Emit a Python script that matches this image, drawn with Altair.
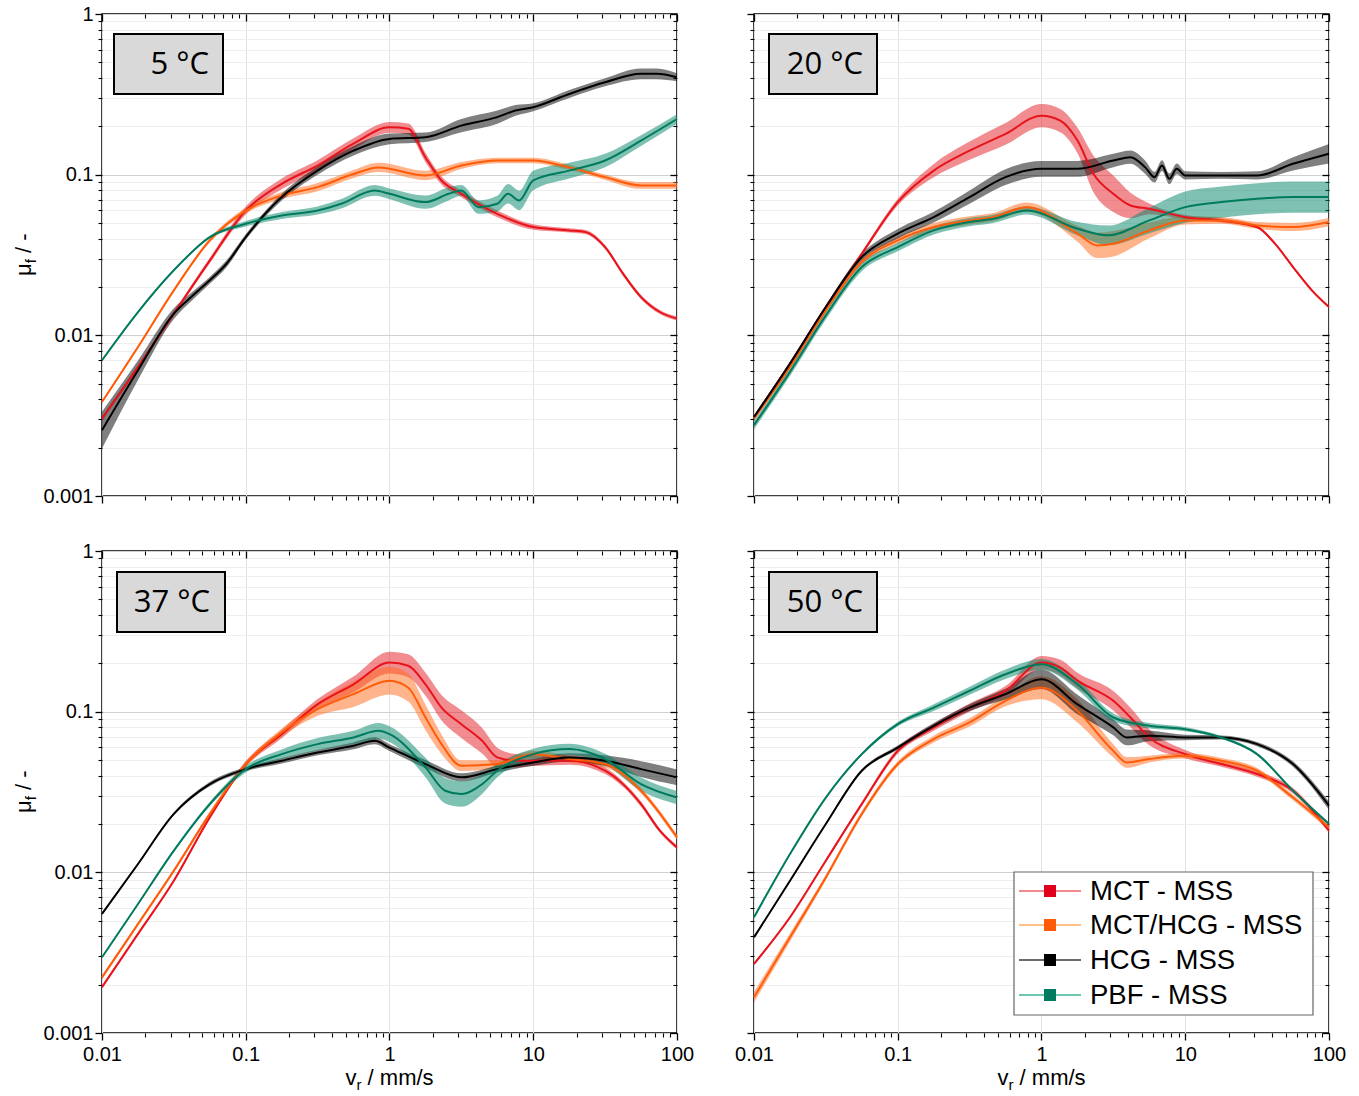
import altair as alt
import pandas as pd

# ---------------- data ----------------
SERIES = ["MCT - MSS", "MCT/HCG - MSS", "HCG - MSS", "PBF - MSS"]
TEMPS = ["5 °C", "20 °C", "37 °C", "50 °C"]

X_MAJOR = [0.01, 0.1, 1, 10, 100]
X_MINOR = [0.02, 0.03, 0.04, 0.05, 0.06, 0.07, 0.08, 0.09,
           0.2, 0.3, 0.4, 0.5, 0.6, 0.7, 0.8, 0.9,
           2, 3, 4, 5, 6, 7, 8, 9,
           20, 30, 40, 50, 60, 70, 80, 90]
Y_MAJOR = [0.001, 0.01, 0.1, 1]
Y_MINOR = [0.002, 0.003, 0.004, 0.005, 0.006, 0.007, 0.008, 0.009,
           0.02, 0.03, 0.04, 0.05, 0.06, 0.07, 0.08, 0.09,
           0.2, 0.3, 0.4, 0.5, 0.6, 0.7, 0.8, 0.9]

# 5 °C
T5_MCT_X = [0.01, 0.0178, 0.0316, 0.0562, 0.1, 0.178, 0.316, 0.562, 1, 1.35, 1.78, 2.3, 3.16, 5.62, 10, 17.8, 23.2, 31.6, 42.1, 56.2, 76, 100]
T5_MCT_Y = [0.00303, 0.00635, 0.01365, 0.0292, 0.0598, 0.0877, 0.114, 0.156, 0.197, 0.193, 0.128, 0.092, 0.076, 0.057, 0.0472, 0.045, 0.0439, 0.0354, 0.0242, 0.0173, 0.01397, 0.0127]
T5_MCT_F = [1.03, 1.03, 1.03, 1.04, 1.06, 1.08, 1.08, 1.08, 1.08, 1.08, 1.07, 1.06, 1.05, 1.05, 1.04, 1.03, 1.03, 1.03, 1.03, 1.03, 1.03, 1.03]

T5_MIX_X = [0.01, 0.0178, 0.0316, 0.0562, 0.1, 0.178, 0.316, 0.562, 0.837, 1.78, 3.16, 5.62, 10, 17.8, 31.6, 56.2, 100]
T5_MIX_Y = [0.00385, 0.00846, 0.01905, 0.039, 0.0598, 0.0742, 0.0836, 0.101, 0.111, 0.0989, 0.114, 0.1225, 0.1225, 0.111, 0.0965, 0.0857, 0.0857]
T5_MIX_F = [1.02, 1.02, 1.02, 1.03, 1.04, 1.05, 1.06, 1.06, 1.07, 1.07, 1.05, 1.04, 1.04, 1.04, 1.04, 1.05, 1.05]

T5_HCG_X = [0.01, 0.0178, 0.0316, 0.043, 0.0562, 0.0735, 0.1, 0.178, 0.316, 0.562, 1, 1.78, 3.16, 5.62, 7.52, 10, 17.8, 31.6, 56.2, 72, 100]
T5_HCG_Y = [0.00257, 0.00606, 0.01365, 0.01774, 0.022, 0.0279, 0.0409, 0.0725, 0.106, 0.141, 0.167, 0.171, 0.202, 0.228, 0.251, 0.263, 0.318, 0.376, 0.424, 0.424, 0.404]
T5_HCG_F = [1.3, 1.15, 1.08, 1.06, 1.05, 1.05, 1.04, 1.05, 1.06, 1.07, 1.08, 1.07, 1.1, 1.1, 1.08, 1.06, 1.06, 1.06, 1.08, 1.08, 1.06]

T5_PBF_X = [0.01, 0.0178, 0.0316, 0.0562, 0.1, 0.178, 0.316, 0.462, 0.789, 1, 1.78, 2.58, 3.16, 4.16, 5.62, 6.68, 7.98, 10, 17.8, 31.6, 56.2, 100]
T5_PBF_Y = [0.007, 0.01397, 0.0254, 0.0409, 0.0495, 0.0557, 0.0598, 0.0659, 0.0798, 0.076, 0.0675, 0.076, 0.0798, 0.0628, 0.0659, 0.076, 0.0691, 0.092, 0.106, 0.1225, 0.163, 0.222]
T5_PBF_F = [1.01, 1.01, 1.01, 1.02, 1.04, 1.05, 1.06, 1.07, 1.08, 1.08, 1.1, 1.1, 1.08, 1.1, 1.12, 1.15, 1.15, 1.15, 1.12, 1.1, 1.08, 1.07]

# 20 °C
T20_MCT_X = [0.01, 0.0178, 0.0316, 0.0562, 0.1, 0.178, 0.316, 0.562, 1, 1.35, 1.78, 2.3, 3.16, 4.16, 5.62, 10, 17.8, 31.6, 42.1, 56.2, 76, 100]
T20_MCT_Y = [0.0031, 0.00667, 0.015, 0.0322, 0.0675, 0.106, 0.141, 0.1795, 0.233, 0.217, 0.163, 0.101, 0.076, 0.0643, 0.0613, 0.0544, 0.0519, 0.0472, 0.0372, 0.0266, 0.01905, 0.015]
T20_MCT_F = [1.02, 1.02, 1.02, 1.03, 1.05, 1.1, 1.14, 1.17, 1.18, 1.18, 1.2, 1.3, 1.3, 1.2, 1.08, 1.03, 1.03, 1.02, 1.02, 1.02, 1.02, 1.02]

T20_MIX_X = [0.01, 0.0178, 0.0316, 0.0562, 0.1, 0.178, 0.316, 0.462, 0.789, 1.78, 2.44, 3.16, 5.62, 10, 17.8, 31.6, 56.2, 100]
T20_MIX_Y = [0.00303, 0.00635, 0.01429, 0.0286, 0.039, 0.0472, 0.0519, 0.0544, 0.0628, 0.0429, 0.0363, 0.0372, 0.045, 0.0519, 0.0519, 0.0483, 0.0472, 0.0507]
T20_MIX_F = [1.03, 1.03, 1.03, 1.04, 1.05, 1.06, 1.06, 1.06, 1.07, 1.12, 1.2, 1.2, 1.12, 1.06, 1.05, 1.05, 1.06, 1.06]

T20_HCG_X = [0.01, 0.0178, 0.0316, 0.0562, 0.1, 0.178, 0.316, 0.562, 1, 1.78, 3.16, 4.16, 5.27, 6.11, 6.89, 7.75, 8.72, 10, 17.8, 31.6, 56.2, 100]
T20_HCG_Y = [0.0031, 0.00667, 0.015, 0.0307, 0.0429, 0.0544, 0.0725, 0.0965, 0.1087, 0.1087, 0.1225, 0.1285, 0.111, 0.0965, 0.114, 0.0942, 0.1087, 0.0989, 0.0989, 0.0989, 0.1168, 0.135]
T20_HCG_F = [1.02, 1.02, 1.03, 1.05, 1.07, 1.08, 1.1, 1.12, 1.12, 1.12, 1.1, 1.1, 1.1, 1.08, 1.08, 1.08, 1.08, 1.06, 1.05, 1.06, 1.1, 1.15]

T20_PBF_X = [0.01, 0.0178, 0.0316, 0.0562, 0.1, 0.178, 0.316, 0.462, 0.789, 1.78, 2.91, 5.62, 10, 17.8, 31.6, 56.2, 100]
T20_PBF_Y = [0.00276, 0.00592, 0.0133, 0.0266, 0.0354, 0.045, 0.0507, 0.0531, 0.0598, 0.0461, 0.0419, 0.0519, 0.0628, 0.0675, 0.0708, 0.0725, 0.0725]
T20_PBF_F = [1.06, 1.06, 1.06, 1.06, 1.06, 1.06, 1.06, 1.06, 1.06, 1.1, 1.15, 1.2, 1.25, 1.25, 1.25, 1.25, 1.25]

# 37 °C
T37_MCT_X = [0.01, 0.0178, 0.0316, 0.0562, 0.1, 0.178, 0.316, 0.562, 1, 1.35, 1.78, 2.3, 3.16, 4.41, 5.62, 7.52, 10, 17.8, 31.6, 42.1, 56.2, 76, 100]
T37_MCT_Y = [0.00193, 0.00414, 0.00887, 0.022, 0.0472, 0.0725, 0.111, 0.148, 0.202, 0.193, 0.148, 0.106, 0.0836, 0.0659, 0.0519, 0.0495, 0.0495, 0.0495, 0.0429, 0.0354, 0.0266, 0.01816, 0.01429]
T37_MCT_F = [1.02, 1.02, 1.02, 1.03, 1.04, 1.06, 1.08, 1.12, 1.17, 1.18, 1.18, 1.2, 1.22, 1.2, 1.15, 1.1, 1.08, 1.06, 1.05, 1.04, 1.04, 1.03, 1.03]

T37_MIX_X = [0.01, 0.0178, 0.0316, 0.0562, 0.1, 0.178, 0.316, 0.562, 1, 1.35, 1.78, 2.3, 3.16, 5.62, 10, 17.8, 31.6, 56.2, 100]
T37_MIX_Y = [0.00222, 0.00477, 0.01023, 0.0231, 0.0472, 0.0742, 0.1037, 0.1285, 0.156, 0.141, 0.092, 0.0628, 0.0461, 0.0472, 0.0544, 0.0507, 0.0472, 0.0322, 0.01652]
T37_MIX_F = [1.03, 1.03, 1.03, 1.03, 1.04, 1.06, 1.1, 1.2, 1.22, 1.22, 1.2, 1.15, 1.08, 1.06, 1.05, 1.05, 1.05, 1.04, 1.04]

T37_HCG_X = [0.01, 0.0178, 0.0316, 0.0562, 0.1, 0.178, 0.316, 0.562, 0.789, 1, 1.78, 3.16, 5.62, 10, 17.8, 31.6, 56.2, 100]
T37_HCG_Y = [0.00551, 0.01127, 0.0231, 0.0354, 0.0439, 0.0495, 0.0557, 0.0613, 0.0659, 0.0598, 0.0472, 0.039, 0.0439, 0.0483, 0.0519, 0.0495, 0.0439, 0.039]
T37_HCG_F = [1.01, 1.01, 1.02, 1.03, 1.03, 1.04, 1.04, 1.05, 1.05, 1.05, 1.06, 1.06, 1.05, 1.05, 1.06, 1.08, 1.12, 1.12]

T37_PBF_X = [0.01, 0.0178, 0.0316, 0.0562, 0.1, 0.178, 0.316, 0.562, 0.837, 1, 1.78, 2.44, 3.16, 4.41, 5.62, 10, 17.8, 31.6, 56.2, 100]
T37_PBF_Y = [0.00296, 0.00635, 0.01365, 0.0266, 0.0439, 0.0544, 0.0628, 0.0691, 0.076, 0.0725, 0.045, 0.0322, 0.0307, 0.0354, 0.0429, 0.0544, 0.0585, 0.0507, 0.0354, 0.0292]
T37_PBF_F = [1.01, 1.01, 1.02, 1.03, 1.05, 1.07, 1.09, 1.1, 1.12, 1.12, 1.15, 1.2, 1.2, 1.15, 1.1, 1.08, 1.08, 1.08, 1.1, 1.1]

# 50 °C
T50_MCT_X = [0.01, 0.0178, 0.0316, 0.0562, 0.1, 0.178, 0.316, 0.562, 1, 1.35, 1.78, 3.16, 4.16, 5.62, 10, 17.8, 31.6, 56.2, 100]
T50_MCT_Y = [0.00269, 0.00525, 0.01182, 0.0266, 0.057, 0.0798, 0.106, 0.135, 0.202, 0.188, 0.156, 0.1168, 0.092, 0.0691, 0.0544, 0.0472, 0.0409, 0.0322, 0.01816]
T50_MCT_F = [1.02, 1.02, 1.02, 1.03, 1.04, 1.05, 1.06, 1.07, 1.1, 1.12, 1.12, 1.15, 1.15, 1.12, 1.06, 1.04, 1.04, 1.04, 1.03]

T50_MIX_X = [0.01, 0.0178, 0.0316, 0.0562, 0.1, 0.178, 0.316, 0.562, 1, 1.78, 3.16, 3.92, 5.62, 10, 17.8, 31.6, 56.2, 100]
T50_MIX_Y = [0.00167, 0.00394, 0.0093, 0.0231, 0.0472, 0.0675, 0.0857, 0.1168, 0.141, 0.101, 0.057, 0.0483, 0.0507, 0.0531, 0.0495, 0.0429, 0.0292, 0.01905]
T50_MIX_F = [1.08, 1.06, 1.04, 1.04, 1.04, 1.05, 1.06, 1.08, 1.18, 1.18, 1.1, 1.08, 1.05, 1.04, 1.04, 1.04, 1.04, 1.04]

T50_HCG_X = [0.01, 0.0178, 0.0316, 0.0562, 0.1, 0.178, 0.316, 0.562, 1, 1.78, 3.16, 3.92, 5.62, 10, 17.8, 31.6, 56.2, 100]
T50_HCG_Y = [0.00394, 0.00887, 0.02, 0.0429, 0.0598, 0.0817, 0.106, 0.1285, 0.159, 0.111, 0.0798, 0.0691, 0.0708, 0.0691, 0.0691, 0.0628, 0.0472, 0.026]
T50_HCG_F = [1.01, 1.01, 1.01, 1.02, 1.03, 1.04, 1.05, 1.08, 1.15, 1.15, 1.12, 1.12, 1.08, 1.04, 1.03, 1.03, 1.04, 1.06]

T50_PBF_X = [0.01, 0.0178, 0.0316, 0.0562, 0.1, 0.178, 0.316, 0.562, 1, 1.78, 3.16, 5.62, 10, 17.8, 31.6, 56.2, 100]
T50_PBF_Y = [0.00525, 0.013, 0.0292, 0.0544, 0.0836, 0.106, 0.135, 0.171, 0.197, 0.148, 0.092, 0.0817, 0.0778, 0.0691, 0.0544, 0.0322, 0.02]
T50_PBF_F = [1.01, 1.01, 1.01, 1.02, 1.03, 1.05, 1.06, 1.07, 1.08, 1.08, 1.06, 1.04, 1.03, 1.02, 1.02, 1.02, 1.02]

PANELS = [
    [(T5_MCT_X, T5_MCT_Y, T5_MCT_F), (T5_MIX_X, T5_MIX_Y, T5_MIX_F), (T5_HCG_X, T5_HCG_Y, T5_HCG_F), (T5_PBF_X, T5_PBF_Y, T5_PBF_F)],
    [(T20_MCT_X, T20_MCT_Y, T20_MCT_F), (T20_MIX_X, T20_MIX_Y, T20_MIX_F), (T20_HCG_X, T20_HCG_Y, T20_HCG_F), (T20_PBF_X, T20_PBF_Y, T20_PBF_F)],
    [(T37_MCT_X, T37_MCT_Y, T37_MCT_F), (T37_MIX_X, T37_MIX_Y, T37_MIX_F), (T37_HCG_X, T37_HCG_Y, T37_HCG_F), (T37_PBF_X, T37_PBF_Y, T37_PBF_F)],
    [(T50_MCT_X, T50_MCT_Y, T50_MCT_F), (T50_MIX_X, T50_MIX_Y, T50_MIX_F), (T50_HCG_X, T50_HCG_Y, T50_HCG_F), (T50_PBF_X, T50_PBF_Y, T50_PBF_F)],
]

# ---------------- styling ----------------
LINE_COLORS = ["#e8131b", "#ff5c0a", "#000000", "#007a5c"]
BAND_COLORS = ["#e41a22", "#ff6a1a", "#000000", "#00866a"]
LEGEND_LINE_COLORS = ["#f28a8e", "#ffbf85", "#6b6b6b", "#6cc6b0"]
LEGEND_SQ_COLORS = ["#e0001b", "#ff5a0a", "#000000", "#007b5f"]
FONT = "Liberation Sans"
W, H = 575, 482

XS = alt.Scale(type="log", domain=[0.01, 100], nice=False)
YS = alt.Scale(type="log", domain=[0.001, 1], nice=False)
ONE = pd.DataFrame({"x": [1.0], "y": [0.1]})


def axis_layer(ax, ay):
    return alt.Chart(ONE).mark_point(opacity=0, size=1).encode(
        x=alt.X("x:Q", scale=XS, axis=ax),
        y=alt.Y("y:Q", scale=YS, axis=ay),
    )


def axes(show_x, show_y):
    common = dict(domain=False, title=None, tickColor="black", labelFont=FONT,
                  labelFontSize=20, labelColor="black")
    l1 = axis_layer(
        alt.Axis(orient="bottom", values=X_MAJOR, format="~g", labels=show_x, labelFlush=False,
                 labelPadding=4, tickSize=7, tickWidth=1.3, grid=True, gridColor="#e2e2e2",
                 gridWidth=1, labelOverlap=False, **common),
        alt.Axis(orient="left", values=Y_MAJOR, format="~g", labels=show_y, labelFlush=False,
                 labelPadding=2, tickSize=7, tickWidth=1.3, grid=True, gridColor="#d0d0d0",
                 gridWidth=1, labelOverlap=False, **common),
    )
    l2 = axis_layer(
        alt.Axis(orient="bottom", values=X_MINOR, labels=False, tickSize=4, tickWidth=1.1,
                 grid=False, **common),
        alt.Axis(orient="left", values=Y_MINOR, labels=False, tickSize=4, tickWidth=1.1,
                 grid=True, gridColor="#eeeeee", gridWidth=1, **common),
    )
    l3 = axis_layer(
        alt.Axis(orient="top", values=X_MAJOR, labels=False, tickSize=7, tickWidth=1.3,
                 offset=-7, grid=False, **common),
        alt.Axis(orient="right", values=Y_MAJOR, labels=False, tickSize=7, tickWidth=1.3,
                 offset=-7, grid=False, **common),
    )
    l4 = axis_layer(
        alt.Axis(orient="top", values=X_MINOR, labels=False, tickSize=4, tickWidth=1.1,
                 offset=-4, grid=False, **common),
        alt.Axis(orient="right", values=Y_MINOR, labels=False, tickSize=4, tickWidth=1.1,
                 offset=-4, grid=False, **common),
    )
    return [l1, l2, l3, l4]


def txt(text, x, y, size, font=FONT, angle=0, align="left", baseline="alphabetic", color="black"):
    kw = dict(text=text, font=font, fontSize=size, align=align, baseline=baseline, color=color)
    if angle:
        kw["angle"] = angle
    return alt.Chart(ONE).mark_text(**kw).encode(x=alt.value(x), y=alt.value(y))


def panel(idx, show_x, show_y, box, legend=False, pin=False):
    layers = axes(show_x, show_y)
    series = PANELS[idx]
    dfs = []
    for s, (xs, ys, fs) in enumerate(series):
        df = pd.DataFrame({"x": xs, "mu": ys, "f": fs})
        df["lo"] = df["mu"] / df["f"]
        df["hi"] = df["mu"] * df["f"]
        dfs.append(df)
    for s, df in enumerate(dfs):
        layers.append(alt.Chart(df).mark_area(opacity=0.5, interpolate="monotone",
                                              color=BAND_COLORS[s]).encode(
            x=alt.X("x:Q", scale=XS, axis=None),
            y=alt.Y("lo:Q", scale=YS, axis=None),
            y2="hi:Q"))
    for s, df in enumerate(dfs):
        layers.append(alt.Chart(df).mark_line(strokeWidth=2, interpolate="monotone",
                                              color=LINE_COLORS[s]).encode(
            x=alt.X("x:Q", scale=XS, axis=None),
            y=alt.Y("mu:Q", scale=YS, axis=None)))
    # temperature box
    bx0, bx1, by0, by1, tx = box
    layers.append(alt.Chart(ONE).mark_rect(fill="#d9d9d9", stroke="black", strokeWidth=2).encode(
        x=alt.value(bx0), x2=alt.value(bx1), y=alt.value(by0), y2=alt.value(by1)))
    layers.append(txt(TEMPS[idx], tx, (by0 + by1) / 2 + 1, 31, font="Open Sans",
                      align="right", baseline="middle"))
    if show_y:
        layers.append(txt("μ", -71, 262, 22, angle=270))
        layers.append(txt("f", -66, 249.3, 15, angle=270))
        layers.append(txt("/ -", -71, 239, 22, angle=270))
    if show_x:
        layers.append(txt("v", 243.5, 534, 22))
        layers.append(txt("r", 254.5, 539, 15))
        layers.append(txt("/ mm/s", 265.6, 534, 22))
    if legend:
        layers.append(alt.Chart(ONE).mark_rect(fill="white", stroke="#666666", strokeWidth=1.2).encode(
            x=alt.value(260), x2=alt.value(559), y=alt.value(321), y2=alt.value(464)))
        rows = [340, 374, 409, 444]
        for k, name in enumerate(SERIES):
            yy = rows[k]
            layers.append(alt.Chart(ONE).mark_rule(color=LEGEND_LINE_COLORS[k], strokeWidth=2).encode(
                x=alt.value(265), x2=alt.value(327), y=alt.value(yy)))
            layers.append(alt.Chart(ONE).mark_rect(color=LEGEND_SQ_COLORS[k]).encode(
                x=alt.value(290), x2=alt.value(302), y=alt.value(yy - 6), y2=alt.value(yy + 6)))
            layers.append(txt(name, 336, yy + 1, 27.5, baseline="middle"))
    if pin:
        layers.append(alt.Chart(ONE).mark_rule(opacity=0, strokeWidth=1).encode(
            x=alt.value(-96), y=alt.value(-10), y2=alt.value(-9)))
    return alt.layer(*layers).properties(width=W, height=H).resolve_axis(
        x="independent", y="independent")


p1 = panel(0, False, True, (12, 121, 20, 80, 107), pin=True)
p2 = panel(1, False, False, (15, 123, 20, 80, 109))
p3 = panel(2, True, True, (15, 123, 21, 81, 108))
p4 = panel(3, True, False, (15, 123, 21, 81, 109), legend=True)

chart = alt.concat(p1, p2, p3, p4, columns=2, spacing={"row": 55, "column": 77},
                   bounds="flush").configure_view(
    stroke="black", strokeWidth=1.5).properties(
    background="white", padding={"left": 5, "top": 3, "right": 5, "bottom": 5})

chart.save("out.html", embed_options={"renderer": "svg", "actions": False})
